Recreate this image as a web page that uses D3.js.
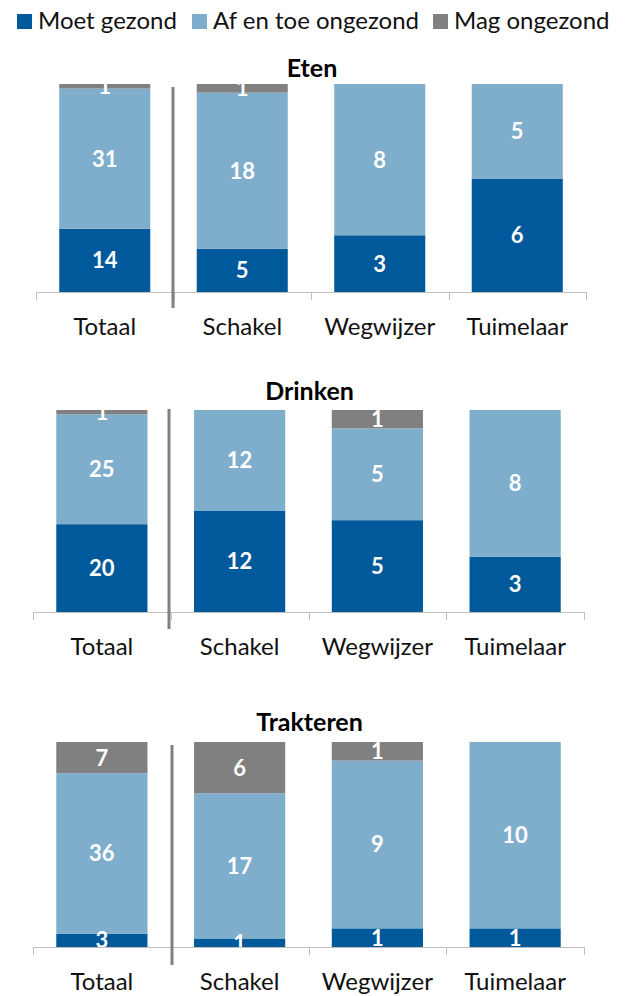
<!DOCTYPE html>
<html>
<head>
<meta charset="utf-8">
<script src="https://cdn.jsdelivr.net/npm/d3@7"></script>
<style>
  body { margin: 0; background: #fff; }
  svg { display: block; font-family: Lato, 'Noto Sans', sans-serif; }
</style>
</head>
<body>
<div id="chart"></div>
<script>
// categories and series
const categories = ['Totaal', 'Schakel', 'Wegwijzer', 'Tuimelaar'];
const series = ['Moet gezond', 'Af en toe ongezond', 'Mag ongezond'];
const colors = ['#00599a', '#7faecd', '#808080'];

// Eten
const etenMoet = [14, 5, 3, 6];
const etenAfEnToe = [31, 18, 8, 5];
const etenMag = [1, 1, 0, 0];

// Drinken
const drinkenMoet = [20, 12, 5, 3];
const drinkenAfEnToe = [25, 12, 5, 8];
const drinkenMag = [1, 0, 1, 0];

// Trakteren
const trakterenMoet = [3, 1, 1, 1];
const trakterenAfEnToe = [36, 17, 9, 10];
const trakterenMag = [7, 6, 1, 0];

const panels = [
  { title: 'Eten', values: [etenMoet, etenAfEnToe, etenMag],
    left: 36, right: 586, top: 84, base: 292, titleY: 77, labelY: 335, sepX: 173, sepTop: 87, sepBottom: 308 },
  { title: 'Drinken', values: [drinkenMoet, drinkenAfEnToe, drinkenMag],
    left: 33, right: 584, top: 410, base: 612, titleY: 400, labelY: 655, sepX: 169, sepTop: 409, sepBottom: 629 },
  { title: 'Trakteren', values: [trakterenMoet, trakterenAfEnToe, trakterenMag],
    left: 33, right: 584, top: 742, base: 947, titleY: 731, labelY: 990, sepX: 172, sepTop: 745, sepBottom: 965 }
];

const width = 627, height = 996;

const svg = d3.select('#chart')
  .append('svg')
  .attr('width', width)
  .attr('height', height);

// legend
const legendX = [17, 192, 433];
const legend = svg.append('g');
series.forEach((s, i) => {
  legend.append('rect')
    .attr('x', legendX[i]).attr('y', 14)
    .attr('width', 15).attr('height', 15)
    .attr('fill', colors[i]);
  legend.append('text')
    .attr('x', legendX[i] + 21).attr('y', 29)
    .attr('font-size', 24)
    .attr('fill', '#111')
    .text(s);
});

const stack = d3.stack()
  .keys(d3.range(series.length))
  .offset(d3.stackOffsetExpand);

panels.forEach((p, pi) => {
  const rows = categories.map((c, ci) => {
    const r = { cat: c };
    p.values.forEach((v, si) => { r[si] = v[ci]; });
    return r;
  });

  const x = d3.scaleBand()
    .domain(categories)
    .range([p.left, p.right])
    .paddingInner(0.338)
    .paddingOuter(0.169);

  const y = d3.scaleLinear()
    .domain([0, 1])
    .range([p.base, p.top]);

  const g = svg.append('g');

  g.append('text')
    .attr('x', (p.left + p.right) / 2 + 1)
    .attr('y', p.titleY)
    .attr('text-anchor', 'middle')
    .attr('font-size', 25)
    .attr('font-weight', 'bold')
    .attr('fill', '#000')
    .text(p.title);

  const clipId = 'clip' + pi;
  svg.append('clipPath').attr('id', clipId)
    .append('rect')
    .attr('x', p.left).attr('y', p.top)
    .attr('width', p.right - p.left).attr('height', p.base - p.top);

  const layers = stack(rows);

  const layer = g.selectAll('.layer')
    .data(layers)
    .enter().append('g')
    .attr('fill', d => colors[d.key]);

  layer.selectAll('rect')
    .data(d => d)
    .enter().append('rect')
    .attr('x', d => x(d.data.cat))
    .attr('y', d => y(d[1]))
    .attr('width', x.bandwidth())
    .attr('height', d => y(d[0]) - y(d[1]));

  // value labels, clipped to the plot area like the original
  const labels = g.append('g').attr('clip-path', `url(#${clipId})`);
  layers.forEach(l => {
    l.forEach(d => {
      const v = d.data[l.key];
      if (!v) return;
      labels.append('text')
        .attr('x', x(d.data.cat) + x.bandwidth() / 2)
        .attr('y', (y(d[0]) + y(d[1])) / 2)
        .attr('dy', '0.36em')
        .attr('text-anchor', 'middle')
        .attr('font-size', 22)
        .attr('font-weight', 'bold')
        .attr('fill', '#fff')
        .text(v);
    });
  });

  // axis
  const axis = g.append('g')
    .attr('transform', `translate(0,${p.base})`)
    .call(d3.axisBottom(x).tickSize(0).tickPadding(0));
  axis.select('.domain').remove();
  axis.selectAll('text')
    .attr('y', p.labelY - p.base)
    .attr('dy', 0)
    .attr('font-family', 'Lato, sans-serif')
    .attr('font-size', 24)
    .attr('fill', '#111');

  g.append('line')
    .attr('x1', p.left).attr('x2', p.right)
    .attr('y1', p.base + 0.5).attr('y2', p.base + 0.5)
    .attr('stroke', '#bfbfbf');

  const bounds = d3.range(categories.length + 1).map(i => p.left + i * x.step());
  g.selectAll('.tick-mark')
    .data(bounds)
    .enter().append('line')
    .attr('x1', d => Math.round(d) + 0.5).attr('x2', d => Math.round(d) + 0.5)
    .attr('y1', p.base).attr('y2', p.base + 8)
    .attr('stroke', '#bfbfbf');

  // separator between Totaal and the groups
  g.append('line')
    .attr('x1', p.sepX).attr('x2', p.sepX)
    .attr('y1', p.sepTop).attr('y2', p.sepBottom)
    .attr('stroke', '#808080')
    .attr('stroke-width', 3);
});
</script>
</body>
</html>
